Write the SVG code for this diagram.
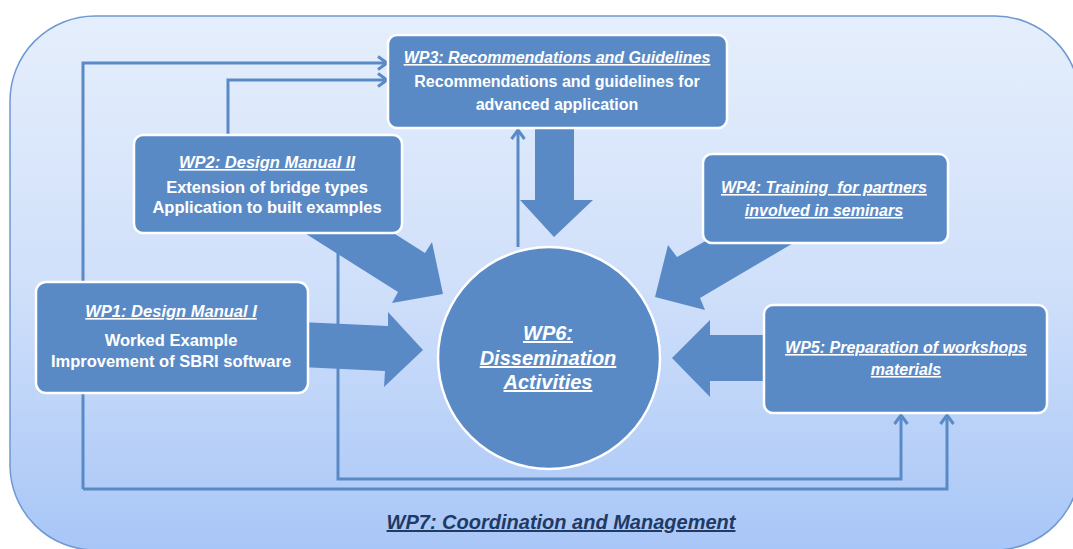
<svg xmlns="http://www.w3.org/2000/svg" width="1073" height="549" viewBox="0 0 1073 549">
<defs>
<linearGradient id="bg" x1="0" y1="0" x2="0" y2="1">
<stop offset="0" stop-color="#e5eefc"/>
<stop offset="0.5" stop-color="#d0e0fa"/>
<stop offset="1" stop-color="#a8c6f7"/>
</linearGradient>
<marker id="chev" markerUnits="userSpaceOnUse" markerWidth="16" markerHeight="16" viewBox="0 0 16 16" refX="12" refY="8" orient="auto">
<path d="M3,1.5 L12,8 L3,14.5" fill="none" stroke="#5a8ac6" stroke-width="3"/>
</marker>
</defs>
<style>
.node{fill:#5a8ac6;stroke:#ffffff;stroke-width:2.5}
.fat{fill:#5a8ac6}
.conn{fill:none;stroke:#5a8ac6;stroke-width:3;marker-end:url(#chev)}
.t{font-family:"Liberation Sans",Arial,sans-serif;font-weight:bold;fill:#ffffff;text-anchor:middle}
.ti{font-style:italic;text-decoration:underline}
</style>
<rect x="0" y="0" width="1073" height="549" fill="#ffffff"/>
<rect x="10" y="16" width="1070" height="534" rx="85" ry="85" fill="url(#bg)" stroke="#6f98d2" stroke-width="1.5"/>

<g id="fat-arrows">
<polygon class="fat" points="300,322 388,326 388,312 423,350 384,387 385,371 300,367"/>
<polygon class="fat" points="276,215 365,215 425,253 432,242 443,294 392,303 398,292"/>
<polygon class="fat" points="535,120 574,120 574,200 593,200 554,237 520,200 535,200"/>
<polygon class="fat" points="734,225 824,225 700,298 705,310 655,297 668,245 677,257"/>
<polygon class="fat" points="770,335 710,335 710,320 672,358 710,397 710,381 770,381"/>
</g>

<g id="connectors">
<path class="conn" d="M83,489 V63 H387"/>
<path class="conn" d="M228,135 V80 H387"/>
<path class="conn" d="M83,489 H947 V415"/>
<path class="conn" d="M338,233 V479 H901 V415"/>
<path class="conn" d="M518,247 V130"/>
</g>

<g id="wp3">
<rect class="node" x="388" y="35" width="339" height="93" rx="9"/>
<text class="t ti" x="557" y="63" font-size="16">WP3: Recommendations and Guidelines</text>
<text class="t" x="557" y="87" font-size="16">Recommendations and guidelines for</text>
<text class="t" x="557" y="110" font-size="16">advanced application</text>
</g>

<g id="wp2">
<rect class="node" x="134" y="135" width="268" height="98" rx="9"/>
<text class="t ti" x="267" y="168" font-size="16.5">WP2: Design Manual II</text>
<text class="t" x="267" y="193" font-size="16.5">Extension of bridge types</text>
<text class="t" x="267" y="213" font-size="16.5">Application to built examples</text>
</g>

<g id="wp1">
<rect class="node" x="36" y="282" width="272" height="111" rx="10"/>
<text class="t ti" x="171" y="317" font-size="16.5">WP1: Design Manual I</text>
<text class="t" x="171" y="346" font-size="16.5">Worked Example</text>
<text class="t" x="171" y="367" font-size="16.5">Improvement of SBRI software</text>
</g>

<g id="wp4">
<rect class="node" x="703" y="154" width="245" height="89" rx="9"/>
<text class="t ti" x="824" y="193" font-size="16">WP4: Training&#160; for partners</text>
<text class="t ti" x="824" y="216" font-size="16">involved in seminars</text>
</g>

<g id="wp5">
<rect class="node" x="764" y="305" width="283" height="108" rx="9"/>
<text class="t ti" x="906" y="353" font-size="16">WP5: Preparation of workshops</text>
<text class="t ti" x="906" y="375" font-size="16">materials</text>
</g>

<g id="wp6">
<circle class="node" cx="549" cy="358" r="111" stroke-width="3"/>
<text class="t ti" x="548" y="340" font-size="20">WP6:</text>
<text class="t ti" x="548" y="365" font-size="20">Dissemination</text>
<text class="t ti" x="548" y="389" font-size="20">Activities</text>
</g>

<g id="wp7">
<text class="t ti" x="561" y="529" font-size="20" style="fill:#1f3a64">WP7: Coordination and Management</text>
</g>
</svg>
